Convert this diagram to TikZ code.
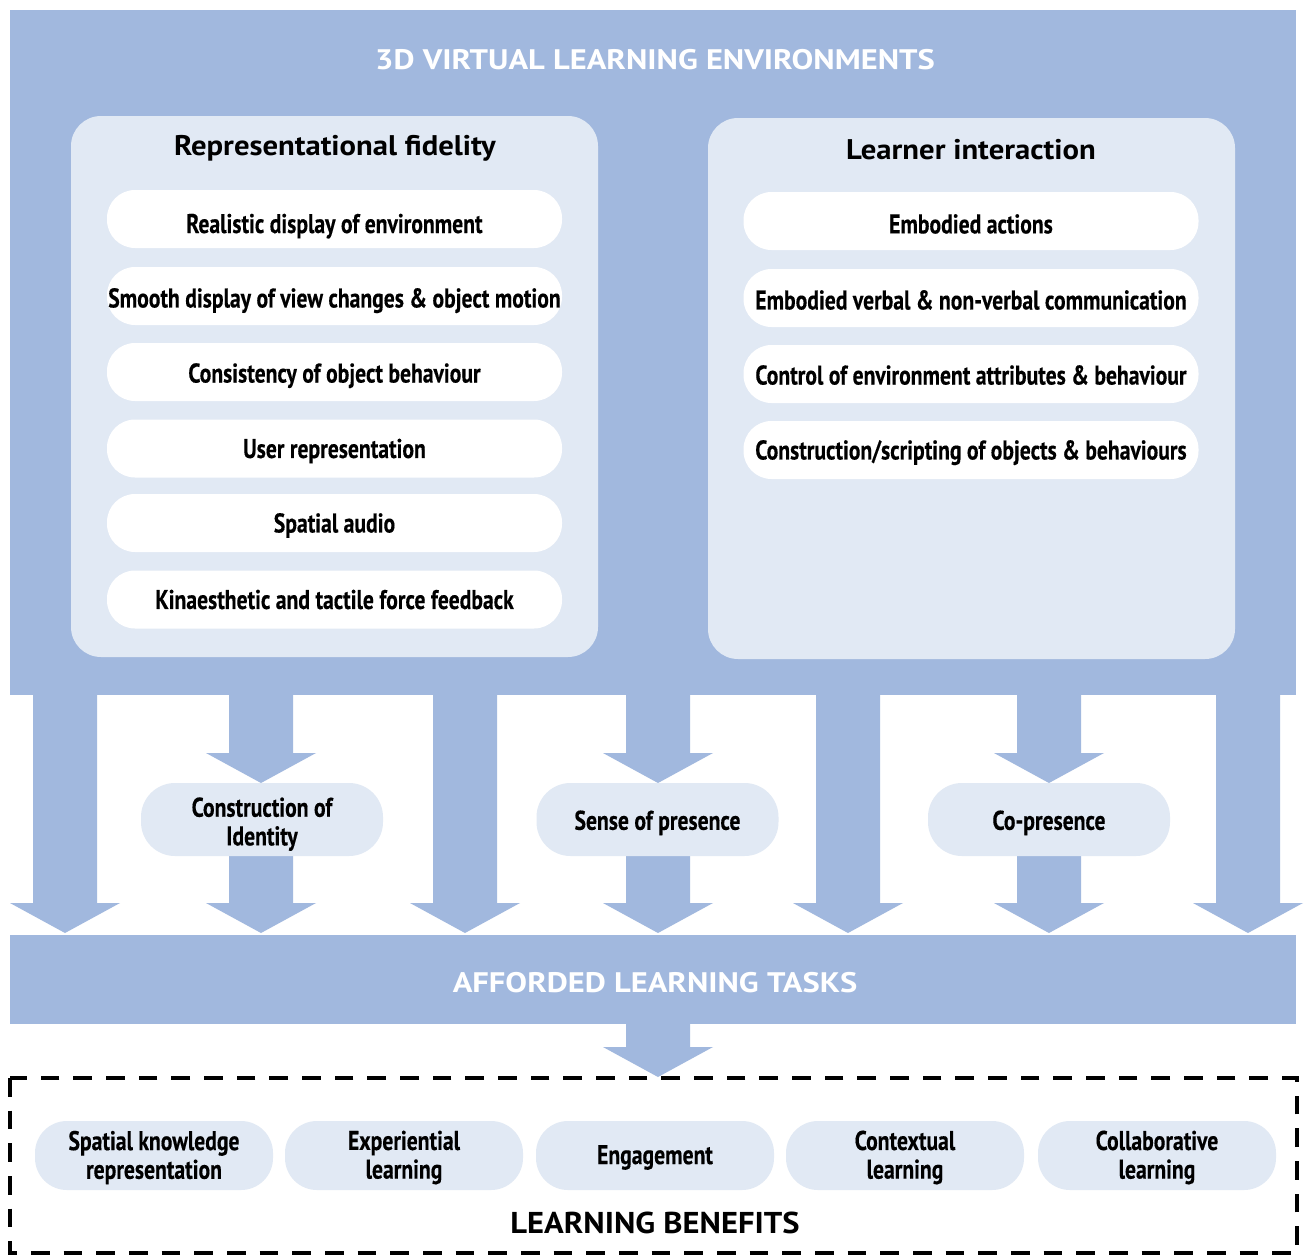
\documentclass[tikz,border=0pt]{standalone}
\usepackage{fontspec}
\setmainfont{PT Sans}
\newfontfamily\cond[FakeStretch=0.8, BoldFeatures={FakeBold=0.3}]{PT Sans}
\newfontfamily\wide[FakeStretch=1.15]{PT Sans}
\newfontfamily\wideb[FakeStretch=1.08]{PT Sans}
\definecolor{bandblue}{HTML}{A1B8DE}
\definecolor{paleblue}{HTML}{E1E9F4}
\newcommand\blockarrow[3]{% center x, top y, tip y (pixel units)
  \fill[bandblue] (#1-32,#2) -- (#1+32,#2) -- (#1+32,#3-30) -- (#1+55,#3-30)
    -- (#1,#3) -- (#1-55,#3-30) -- (#1-32,#3-30) -- cycle;}
% #1 style, #2 name, #3 position, #4 text shift, #5 text
\newcommand\pillnode[5]{%
  \node[#1] (#2) at (#3) {};
  \node[#1 text] (#2t) at ([yshift=#4]#2.center) {#5};}
\tikzset{
  panel/.style={fill=paleblue, draw=none, rounded corners=30*0.75pt, inner sep=0pt,
     minimum width=527*0.75pt, minimum height=541*0.75pt},
  pill/.style={fill=white, draw=none, rounded corners=28*0.75pt, inner sep=0pt,
     minimum width=455*0.75pt, minimum height=58*0.75pt},
  pill text/.style={inner sep=0pt, text height=14.2pt, text depth=0pt,
     font=\cond\bfseries\fontsize{20.3}{22}\selectfont},
  midpill/.style={fill=paleblue, draw=none, rounded corners=34*0.75pt, inner sep=0pt,
     minimum width=242*0.75pt, minimum height=73*0.75pt},
  midpill text/.style={inner sep=0pt, align=center,
     font=\cond\bfseries\fontsize{20.3}{21.5}\selectfont},
  benpill/.style={fill=paleblue, draw=none, rounded corners=32*0.75pt, inner sep=0pt,
     minimum width=238*0.75pt, minimum height=69*0.75pt},
  benpill text/.style={inner sep=0pt, align=center,
     font=\cond\bfseries\fontsize{20.3}{21.5}\selectfont},
  bigtitle/.style={text=white, font=\wide\bfseries\fontsize{21.2}{24}\selectfont},
  paneltitle/.style={text=black, font=\wideb\bfseries\fontsize{21.3}{24}\selectfont},
}
\begin{document}
\begin{tikzpicture}[x=0.75pt,y=-0.75pt]
\useasboundingbox (0,0) rectangle (1306,1256);
\fill[white] (0,0) rectangle (1306,1256);
% top band
\fill[bandblue] (10,10) rectangle (1296,695);
\node[bigtitle] (vle) at (655,60) {3D VIRTUAL LEARNING ENVIRONMENTS};
% panels
\node[panel] (rf) at (334.5,386.5) {};
\node[panel] (li) at (971.5,388.5) {};
\node[paneltitle] (rft) at (335,148) {Representational fidelity};
\node[paneltitle] (lit) at (971,150) {Learner interaction};
% left pills
\pillnode{pill}{r1}{334.5,219}{-3.4pt}{Realistic display of environment}
\pillnode{pill}{r2}{334.5,296}{-1.5pt}{Smooth display of view changes \& object motion}
\pillnode{pill}{r3}{334.5,372}{-0.8pt}{Consistency of object behaviour}
\pillnode{pill}{r4}{334.5,448.5}{0pt}{User representation}
\pillnode{pill}{r5}{334.5,523}{0pt}{Spatial audio}
\pillnode{pill}{r6}{334.5,599.5}{0pt}{Kinaesthetic and tactile force feedback}
% right pills
\pillnode{pill}{l1}{971,221}{-2.2pt}{Embodied actions}
\pillnode{pill}{l2}{971,298}{-1.5pt}{Embodied verbal \& non-verbal communication}
\pillnode{pill}{l3}{971,374}{-0.8pt}{Control of environment attributes \& behaviour}
\pillnode{pill}{l4}{971,450}{0pt}{Construction/scripting of objects \& behaviours}
% bottom band
\fill[bandblue] (10,935) rectangle (1296,1024);
\node[bigtitle] (alt) at (655,983) {AFFORDED LEARNING TASKS};
% block arrows (direct)
\blockarrow{65}{695}{933}
\blockarrow{465}{695}{933}
\blockarrow{848}{695}{933}
\blockarrow{1248}{695}{933}
% block arrows via mediators
\blockarrow{261}{695}{783}
\blockarrow{261}{856}{933}
\blockarrow{658}{695}{783}
\blockarrow{658}{856}{933}
\blockarrow{1049}{695}{783}
\blockarrow{1049}{856}{933}
\pillnode{midpill}{ci}{262,819.5}{-3.5pt}{Construction of\\Identity}
\pillnode{midpill}{sp}{657.5,819.5}{-2.5pt}{Sense of presence}
\pillnode{midpill}{cp}{1049,819.5}{-2.5pt}{Co-presence}
% arrow to benefits
\blockarrow{658}{1024}{1077}
% learning benefits
\draw[line width=3pt, dash pattern=on 14pt off 10.5pt] (10,1078) rectangle (1297,1253);
\pillnode{benpill}{b1}{154,1155.5}{-1.5pt}{Spatial knowledge\\representation}
\pillnode{benpill}{b2}{404,1155.5}{-1.5pt}{Experiential\\learning}
\pillnode{benpill}{b3}{655,1155.5}{-1.5pt}{Engagement}
\pillnode{benpill}{b4}{905,1155.5}{-1.5pt}{Contextual\\learning}
\pillnode{benpill}{b5}{1157,1155.5}{-1.5pt}{Collaborative\\learning}
\node[text=black, font=\wideb\bfseries\fontsize{22.6}{26}\selectfont] (lb) at (655,1223) {LEARNING BENEFITS};
\end{tikzpicture}
\end{document}
